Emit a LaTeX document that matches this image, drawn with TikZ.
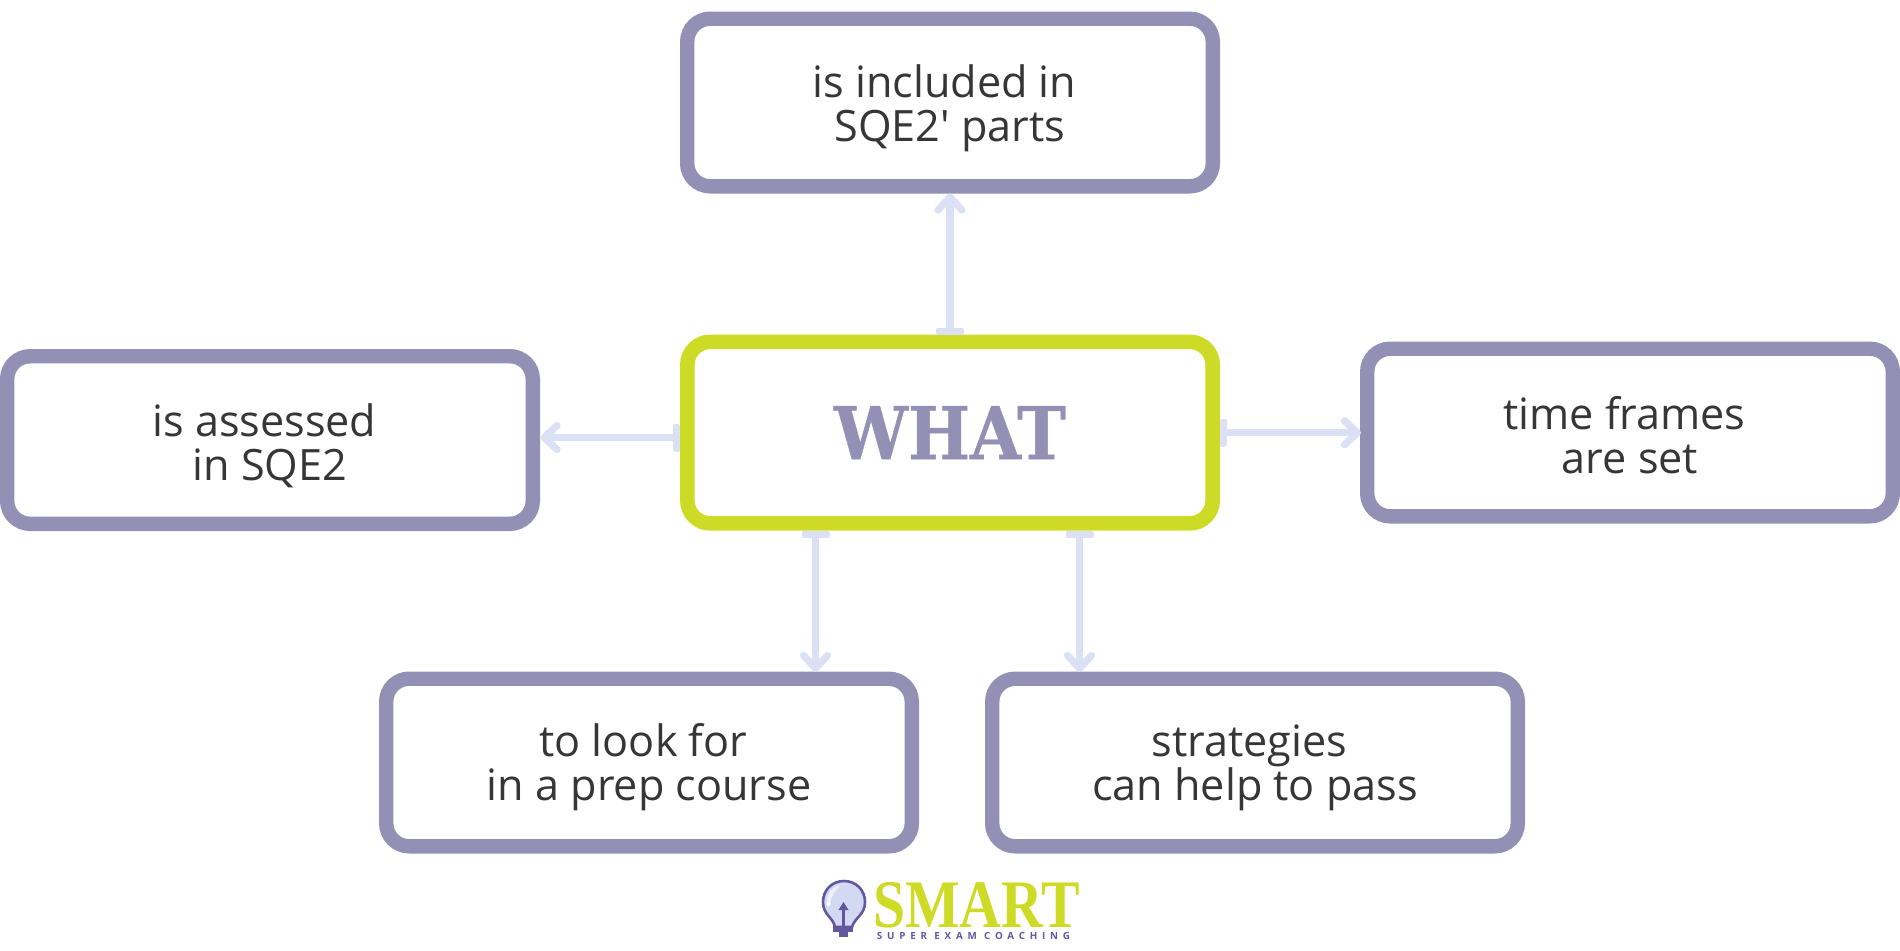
\documentclass[tikz,border=0pt]{standalone}
\usepackage{fontspec}
\setmainfont{Open Sans}[Ligatures=TeXOff]
\newfontfamily\whatfont{DejaVu Serif Condensed}[BoldFeatures={FakeBold=0.6}]
\newfontfamily\smartfont{Liberation Serif}[FakeStretch=0.85]
\newfontfamily\subfont{Open Sans}[LetterSpace=49]
\usetikzlibrary{arrows.meta}
\definecolor{boxpurple}{HTML}{9490B5}
\definecolor{boxgreen}{HTML}{CDDB26}
\definecolor{linkblue}{HTML}{DCE0F5}
\definecolor{txt}{HTML}{363636}
\definecolor{logoviolet}{HTML}{6257A0}
\definecolor{bulbfill}{HTML}{D3D8F3}
\definecolor{bulblight}{HTML}{EEF0FB}
\tikzset{
  x=.5pt,y=-.5pt,
  boxbase/.style={draw,fill=white,rounded corners=11.5pt,inner sep=0pt,line width=7.2pt,
    minimum width=262.8pt,minimum height=83.8pt,align=center,text=txt,
    font=\fontsize{21.6pt}{22pt}\selectfont},
  outerbox/.style={boxbase,draw=boxpurple},
  centerbox/.style={boxbase,draw=boxgreen,text=boxpurple,line width=7.3pt,minimum height=90.8pt,minimum width=262.7pt},
  link/.style={draw=linkblue,line width=3.6pt,
    {Rectangle[length=3.4pt,width=14pt,round]}-{Straight Barb[round,length=6.5pt,width=12pt,line width=3.6pt]}}
}
\newcommand{\lns}[3]{\raisebox{-#1}[\height][\depth]{#2\hspace*{.26em}}\\\raisebox{-#1}[\height][\depth]{#3}}
\begin{document}
\begin{tikzpicture}
\useasboundingbox (0,0) rectangle (1900,950);
\node[centerbox] (c) at (950,432.6) {\whatfont\bfseries\fontsize{36.5pt}{36.5pt}\selectfont WHAT};
\node[outerbox] (t) at (950,102.5) {\lns{2.9pt}{is included in}{SQE2' parts}};
\node[outerbox] (l) at (270,440) {\lns{3pt}{is assessed}{in SQE2}};
\node[outerbox] (r) at (1630,432.5) {\lns{1.5pt}{time frames}{are set}};
\node[outerbox] (bl) at (649,762.5) {\lns{2.5pt}{to look for}{in a prep course}};
\node[outerbox] (br) at (1255,762.5) {\lns{2.5pt}{strategies}{can help to pass}};
\coordinate (l0) at (680,437.5);
\coordinate (l1) at (540.5,437.5);
\coordinate (r0) at (1220,432.7);
\coordinate (r1) at (1361,432.7);
\coordinate (b0) at (815.5,531);
\coordinate (b1) at (815.5,672);
\coordinate (d0) at (1079.5,531);
\coordinate (d1) at (1079.5,672);
\draw[link] (c.north) -- (t.south);
\draw[link] (l0) -- (l1);
\draw[link] (r0) -- (r1);
\draw[link] (b0) -- (b1);
\draw[link] (d0) -- (d1);
% logo
\fill[logoviolet] (833,926) rectangle (853,932);
\fill[logoviolet] (839,932) rectangle (848,937);
\draw[logoviolet,line width=1.3pt,fill=bulbfill]
  (835,927) .. controls (833,917) and (823,915) .. (823,902)
  .. controls (823,890) and (832,881) .. (844,881)
  .. controls (856,881) and (865,890) .. (865,902)
  .. controls (865,915) and (855,917) .. (852,927) -- cycle;
\fill[bulblight] (827,903) .. controls (826,893) and (833,886) .. (841,885) .. controls (835,890) and (831,896) .. (830,904) -- cycle;
\fill[white] (828.5,904) circle (2);
\draw[logoviolet,line width=1.5pt] (843.5,927) -- (843.5,906);
\fill[logoviolet] (843.5,902) -- (848.5,910) -- (838.5,910) -- cycle;
\node[inner sep=0pt,text=boxgreen,font=\smartfont\bfseries\fontsize{34pt}{34pt}\selectfont] (logoword) at (976.5,905.5) {SMART};
\node[inner sep=0pt,text=logoviolet,font=\subfont\bfseries\fontsize{4.9pt}{5pt}\selectfont] (logosub) at (973.5,935.5) {SUPER EXAM COACHING};
\end{tikzpicture}
\end{document}
